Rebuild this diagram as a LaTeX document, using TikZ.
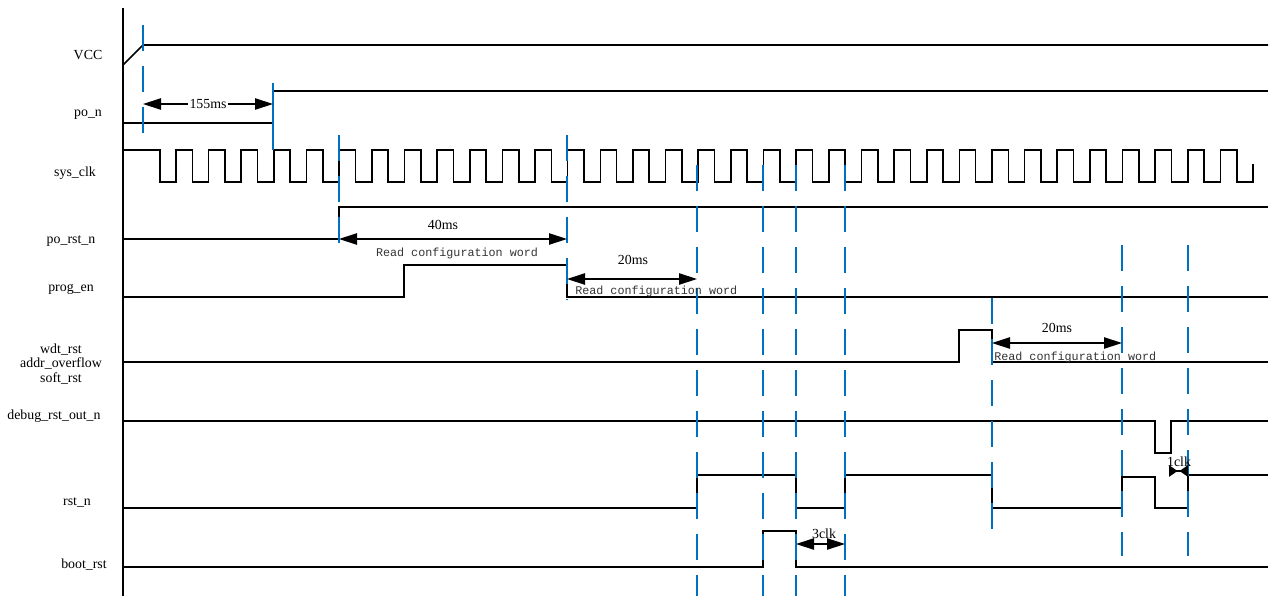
\documentclass[tikz,border=0pt]{standalone}
\usepackage{fontspec}
\setmainfont{Liberation Serif}
\newfontfamily\cfgfont{Liberation Mono}
\usetikzlibrary{arrows.meta}
\definecolor{markblue}{RGB}{0,112,192}

\begin{document}
\begin{tikzpicture}[x=0.75pt,y=-0.75pt,
  sig/.style={line width=1.2pt,black},
  tick/.style={markblue,line width=1.2pt,dash pattern=on 19.5pt off 11.25pt},
  dim/.style={line width=1pt,{Triangle[length=13.5pt,width=8.5pt]}-{Triangle[length=13.5pt,width=8.5pt]}},
  shortdim/.style={line width=1pt,{Triangle[reversed,length=6.4pt,width=8.5pt]}-{Triangle[reversed,length=6.4pt,width=8.5pt]}},
  lbl/.style={font=\fontsize{10.4}{12}\selectfont},
  cfg/.style={font=\cfgfont\fontsize{8.8}{10}\selectfont,text=black!80}]
 \useasboundingbox (0,0) rectangle (1273,596);

 % signal names
 \node[lbl] at (88,55)   (vcc)  {VCC};
 \node[lbl] at (88,115)  (pon)  {po\_n};
 \node[lbl] at (75,173)  (clk)  {sys\_clk};
 \node[lbl] at (71,241)  (porst) {po\_rst\_n};
 \node[lbl] at (71,289)  (prog) {prog\_en};
 \node[lbl,align=center,inner sep=0pt] at (61,364) (wdt) {wdt\_rst\\[-1.2pt]addr\_overflow\\[-1.2pt]soft\_rst};
 \node[lbl] at (54,416)  (dbg)  {debug\_rst\_out\_n};
 \node[lbl] at (77,502)  (rstn) {rst\_n};
 \node[lbl] at (84,565)  (boot) {boot\_rst};

 \draw[sig] (123,8)--(123,596);

 % waveforms
 \draw[sig] (123,65)--(143,45)--(1268,45);
 \draw[sig] (123,123)--(273,123)--(273,91)--(1268,91);
 \draw[sig] (123,150)--(160,150)--(160,182)
   foreach \k in {0,...,32}{ --({176+\k*32.64},182)--({176+\k*32.64},150)--({192.32+\k*32.64},150)--({192.32+\k*32.64},182) }
   --(1253,182)--(1253,164);
 \draw[sig] (123,239)--(339,239)--(339,207)--(1268,207);
 \draw[sig] (123,297)--(404,297)--(404,265)--(567,265)--(567,297)--(1268,297);
 \draw[sig] (123,362)--(959,362)--(959,330)--(992,330)--(992,362)--(1268,362);
 \draw[sig] (123,421)--(1155,421)--(1155,453)--(1171,453)--(1171,421)--(1268,421);
 \draw[sig] (123,508)--(697,508)--(697,475)--(796,475)--(796,508)--(845,508)--(845,475)
   --(992,475)--(992,508)--(1122,508)--(1122,477)--(1155,477)--(1155,508)--(1188,508)--(1188,475)--(1268,475);
 \draw[sig] (123,567)--(763,567)--(763,531)--(796,531)--(796,567)--(1268,567);

 % blue markers
 \draw[tick] (143,25)--(143,136);
 \draw[markblue,line width=1.2pt] (273,83)--(273,150);
 \draw[tick] (339,135)--(339,245);
 \draw[tick] (567,135)--(567,300);
 \foreach \xm in {697,763,796,845}
   \draw[tick] (\xm,165)--(\xm,596);
 \draw[tick] (992,298)--(992,530);
 \foreach \xm in {1122,1188}
   \draw[tick] (\xm,245)--(\xm,556);

 % timing marks
 \coordinate (a1) at (143,104);  \coordinate (b1) at (273,104);
 \coordinate (a2) at (339,239);  \coordinate (b2) at (567,239);
 \coordinate (a3) at (567,279);  \coordinate (b3) at (697,279);
 \coordinate (a4) at (992,343);  \coordinate (b4) at (1122,343);
 \coordinate (a5) at (796,544);  \coordinate (b5) at (845,544);
 \coordinate (a6) at (1169,471); \coordinate (b6) at (1188,471);

 \draw[dim] (a1)--(b1);
 \node[lbl,fill=white,inner sep=1pt] at (208,104) (t155) {155ms};
 \draw[dim] (a2)--(b2);
 \node[lbl] at (443,225) (t40) {40ms};
 \node[cfg] at (457,253) (rd1) {Read configuration word};
 \draw[dim] (a3)--(b3);
 \node[lbl] at (633,260) (t20a) {20ms};
 \node[cfg,anchor=west,inner sep=0pt] at (575,291) (rd2) {Read configuration word};
 \draw[dim] (a4)--(b4);
 \node[lbl] at (1057,328) (t20b) {20ms};
 \node[cfg,anchor=west,inner sep=0pt] at (994,357) (rd3) {Read configuration word};
 \draw[dim] (a5)--(b5);
 \node[lbl] at (824,534) (t3) {3clk};
 \draw[shortdim] (a6)--(b6);
 \node[lbl] at (1179,462) (t1) {1clk};
\end{tikzpicture}
\end{document}
